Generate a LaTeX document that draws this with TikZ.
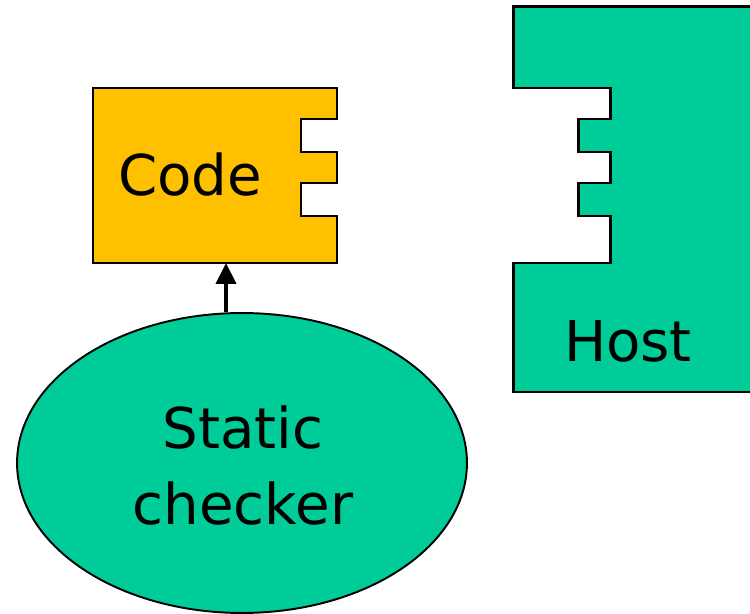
\documentclass[tikz,border=0pt]{standalone}
\usepackage{fontspec}
\setmainfont{DejaVu Sans}
\usepackage{tikz}
\usetikzlibrary{shapes.geometric,arrows.meta}

\definecolor{codeorange}{RGB}{255,192,0}
\definecolor{hostgreen}{RGB}{0,204,153}

\tikzset{
  plug/.style = {draw=black, line width=1.7pt, line join=miter},
  bigtext/.style = {font=\fontsize{32}{43}\selectfont, anchor=base, align=center}
}

\begin{document}
\begin{tikzpicture}[x=0.02cm, y=-0.02cm]
\useasboundingbox (0,0) rectangle (750,614);
% code block with two sockets on the right
\draw [plug, fill=codeorange] (93,88) -- (337,88) -- (337,119) -- (301,119) -- (301,152)
  -- (337,152) -- (337,183) -- (301,183) -- (301,216) -- (337,216) -- (337,263)
  -- (93,263) -- cycle;
\node [bigtext] (code) at (190,196) {Code};
\coordinate (codebot) at (226,263);
% host, runs off the right side
\begin{scope}
\clip (0,0) rectangle (750,614);
\draw [plug, fill=hostgreen] (513,7) -- (800,7) -- (800,392) -- (513,392) -- (513,263)
  -- (610,263) -- (610,216) -- (578,216) -- (578,183) -- (610,183) -- (610,152)
  -- (578,152) -- (578,119) -- (610,119) -- (610,88) -- (513,88) -- cycle;
\end{scope}
\node [bigtext] (host) at (628,362) {Host};
% checker
\node [ellipse, draw=black, line width=1.1pt, fill=hostgreen, minimum width=9cm,
  minimum height=6cm] (checker) at (242,463) {};
\node [bigtext] (checkertext) at (243,524) {Static\\checker};
\draw [line width=2.4pt, -{Triangle[width=0.4cm, length=0.42cm]}] (checker.north -| codebot) -- (codebot);
\end{tikzpicture}
\end{document}
